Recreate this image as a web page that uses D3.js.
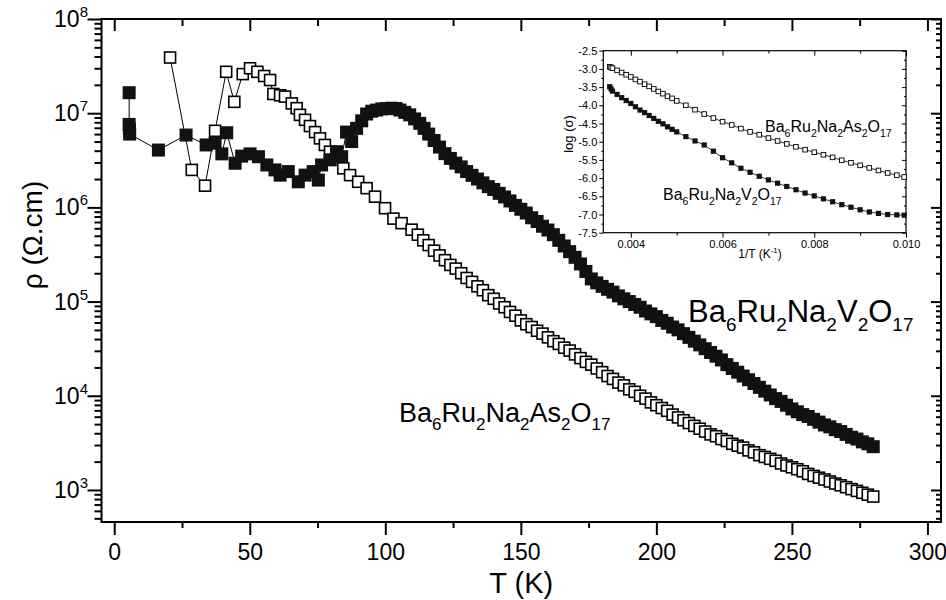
<!DOCTYPE html>
<html>
<head>
<meta charset="utf-8">
<script src="https://cdn.jsdelivr.net/npm/d3@7"></script>
<style>
body { margin: 0; background: #fff; }
text { font-family: "Liberation Sans", Arial, sans-serif; fill: #000; }
.axis path.domain { display: none; }
.axis line { stroke: #000; }
</style>
</head>
<body>
<div id="chart"></div>
<script>
const width = 946
const height = 600

// Ba6Ru2Na2V2O17 (filled squares): T (K) and resistivity (Ohm.cm)
const tempV = [5.5, 5.5, 5.6, 5.7, 16.3, 26.5, 33.9, 37.2, 39.7, 41.5, 44.6, 47.0, 50.1, 53.2, 56.3, 59.3, 61.2, 64.2, 67.9, 70.4,
    73.4, 75.3, 76.5, 79.6, 82.0, 83.9, 85.7, 87.6, 89.4, 91.3, 93.1, 95.0, 96.8, 98.7, 100.5, 102.3, 104.0, 105.4, 107.2, 109.0,
    110.8, 112.7, 114.3, 116, 118, 120, 122, 124, 126, 128, 130, 132, 134, 136, 138, 140, 142, 144, 146, 148,
    150, 152, 154, 156, 158, 160, 162, 164, 166, 168, 170, 172, 174, 176, 178, 180, 182, 184, 186, 188,
    190, 192, 194, 196, 198, 200, 202, 204, 206, 208, 210, 212, 214, 216, 218, 220, 222, 224, 226, 228,
    230, 232, 234, 236, 238, 240, 242, 244, 246, 248, 250, 252, 254, 256, 258, 260, 262, 264, 266, 268,
    270, 272, 274, 276, 278, 280]
const rhoV = [1.65e7, 7.6e6, 6.8e6, 6.0e6, 4.06e6, 5.86e6, 4.6e6, 4.8e6, 3.7e6, 6.2e6, 2.94e6, 3.5e6, 3.7e6, 3.45e6, 2.82e6, 2.5e6, 2.2e6, 2.4e6, 1.87e6, 2.2e6,
    2.4e6, 1.95e6, 2.82e6, 3.2e6, 3.9e6, 3.45e6, 6.3e6, 5.0e6, 6.9e6, 8.3e6, 9.8e6, 1.05e7, 1.08e7, 1.11e7, 1.12e7, 1.13e7, 1.12e7, 1.08e7, 1.02e7, 9.6e6,
    8.7e6, 7.8e6, 6.9e6, 6.0e6, 5.13e6, 4.37e6, 3.72e6, 3.31e6, 2.95e6, 2.69e6, 2.40e6, 2.19e6, 2.00e6, 1.82e6, 1.66e6, 1.55e6, 1.41e6, 1.29e6, 1.17e6, 1.05e6,
    9.55e5, 8.71e5, 7.76e5, 7.08e5, 6.31e5, 5.75e5, 5.13e5, 4.47e5, 3.89e5, 3.39e5, 2.95e5, 2.51e5, 2.09e5, 1.74e5, 1.58e5, 1.45e5, 1.35e5, 1.26e5, 1.15e5, 1.07e5,
    1.00e5, 9.33e4, 8.71e4, 7.94e4, 7.41e4, 6.92e4, 6.31e4, 5.89e4, 5.37e4, 5.01e4, 4.57e4, 4.17e4, 3.80e4, 3.47e4, 3.16e4, 2.88e4, 2.63e4, 2.40e4, 2.14e4, 1.95e4,
    1.78e4, 1.62e4, 1.48e4, 1.35e4, 1.23e4, 1.12e4, 1.02e4, 9.33e3, 8.71e3, 7.94e3, 7.24e3, 6.76e3, 6.31e3, 6.03e3, 5.62e3, 5.25e3, 4.90e3, 4.68e3, 4.37e3, 4.17e3,
    3.89e3, 3.63e3, 3.47e3, 3.24e3, 3.09e3, 2.88e3]

// Ba6Ru2Na2As2O17 (open squares)
const tempAs = [20.6, 28.6, 33.5, 37.2, 41.3, 44.3, 47.4, 50.1, 52.8, 55.3, 57.5, 58.7, 61.2, 63.0, 65.5, 67.3, 68.5, 70.4, 72.2, 74.1,
    75.9, 77.7, 79.6, 82.0, 84.5, 87.0, 90.0, 93.1, 96.2, 99.9, 103.0, 106.0, 109.7, 112, 114, 116, 118, 120, 122, 124,
    126, 128, 130, 132, 134, 136, 138, 140, 142, 144, 146, 148, 150, 152, 154, 156, 158, 160, 162, 164,
    166, 168, 170, 172, 174, 176, 178, 180, 182, 184, 186, 188, 190, 192, 194, 196, 198, 200, 202, 204,
    206, 208, 210, 212, 214, 216, 218, 220, 222, 224, 226, 228, 230, 232, 234, 236, 238, 240, 242, 244,
    246, 248, 250, 252, 254, 256, 258, 260, 262, 264, 266, 268, 270, 272, 274, 276, 278, 280]
const rhoAs = [3.9e7, 2.5e6, 1.7e6, 6.5e6, 2.75e7, 1.32e7, 2.6e7, 3.0e7, 2.75e7, 2.48e7, 2.25e7, 1.6e7, 1.55e7, 1.5e7, 1.27e7, 1.13e7, 9.6e6, 8.5e6, 7.3e6, 6.3e6,
    5.4e6, 4.6e6, 3.9e6, 3.2e6, 2.6e6, 2.2e6, 1.87e6, 1.6e6, 1.3e6, 9.8e5, 7.6e5, 6.8e5, 5.8e5, 5.13e5, 4.47e5, 3.98e5, 3.47e5, 3.09e5, 2.75e5, 2.45e5,
    2.24e5, 2.00e5, 1.78e5, 1.62e5, 1.45e5, 1.32e5, 1.17e5, 1.07e5, 9.55e4, 8.71e4, 7.76e4, 7.08e4, 6.31e4, 5.75e4, 5.37e4, 4.90e4, 4.57e4, 4.17e4, 3.80e4, 3.55e4,
    3.24e4, 3.02e4, 2.75e4, 2.51e4, 2.29e4, 2.14e4, 1.95e4, 1.78e4, 1.62e4, 1.51e4, 1.38e4, 1.29e4, 1.17e4, 1.10e4, 1.00e4, 9.33e3, 8.51e3, 7.94e3, 7.41e3, 6.92e3,
    6.31e3, 5.89e3, 5.50e3, 5.13e3, 4.79e3, 4.47e3, 4.17e3, 3.89e3, 3.72e3, 3.47e3, 3.31e3, 3.09e3, 2.95e3, 2.82e3, 2.63e3, 2.51e3, 2.34e3, 2.24e3, 2.14e3, 2.04e3,
    1.91e3, 1.82e3, 1.74e3, 1.66e3, 1.58e3, 1.48e3, 1.41e3, 1.35e3, 1.29e3, 1.23e3, 1.17e3, 1.12e3, 1.07e3, 1.02e3, 977, 933, 891, 851]

// inset: 1/T (1/K) against log(sigma)
const invT = [0.00354, 0.00357, 0.0036, 0.0037, 0.0038, 0.0039, 0.0040, 0.0041, 0.0042, 0.0043, 0.0044, 0.0045, 0.0046, 0.0047, 0.0048, 0.0049,
    0.0050, 0.0052, 0.0054, 0.0056, 0.0058, 0.0060, 0.0062, 0.0064, 0.0066, 0.0068, 0.0070, 0.0072, 0.0074, 0.0076, 0.0078,
    0.0080, 0.0082, 0.0084, 0.0086, 0.0088, 0.0090, 0.0092, 0.0094, 0.0096, 0.0098, 0.00996]
const logSigmaAs = [-2.94, -2.96, -2.98, -3.04, -3.10, -3.16, -3.22, -3.29, -3.35, -3.42, -3.48, -3.55, -3.62, -3.68, -3.75, -3.81,
    -3.88, -4.00, -4.12, -4.24, -4.35, -4.45, -4.54, -4.64, -4.73, -4.81, -4.90, -4.98, -5.06, -5.14, -5.22,
    -5.29, -5.36, -5.43, -5.51, -5.58, -5.65, -5.72, -5.79, -5.86, -5.92, -5.97]
const logSigmaV = [-3.49, -3.55, -3.61, -3.70, -3.79, -3.87, -3.95, -4.04, -4.13, -4.20, -4.28, -4.36, -4.44, -4.51, -4.59, -4.66,
    -4.73, -4.86, -4.98, -5.09, -5.26, -5.44, -5.58, -5.73, -5.84, -5.95, -6.05, -6.14, -6.23, -6.32, -6.41,
    -6.49, -6.57, -6.65, -6.73, -6.80, -6.87, -6.93, -6.97, -7.00, -7.01, -7.02]

// ticks
const xTicks = [0, 50, 100, 150, 200, 250, 300]
const xMinorTicks = [25, 75, 125, 175, 225, 275]
const yDecades = [1e3, 1e4, 1e5, 1e6, 1e7, 1e8]
const insetYTicks = [-2.5, -3.0, -3.5, -4.0, -4.5, -5.0, -5.5, -6.0, -6.5, -7.0, -7.5]
const insetYMinor = [-2.75, -3.25, -3.75, -4.25, -4.75, -5.25, -5.75, -6.25, -6.75, -7.25]
const insetXTicks = [0.004, 0.006, 0.008, 0.010]
const insetXMinor = [0.005, 0.007, 0.009]

const svg = d3.select("#chart")
    .append("svg")
    .attr("width", width)
    .attr("height", height)

// main plot frame
const plot = { left: 101.5, right: 941, top: 19, bottom: 522 }

const x = d3.scaleLinear().domain([-4.7, 305]).range([plot.left, plot.right])
const y = d3.scaleLog().domain([457, 1e8]).range([plot.bottom, plot.top])
const yMinor = y.ticks().filter(v => !yDecades.includes(v))

// axes
function addAxis(axis, tx, ty) {
    return svg.append("g").attr("class", "axis")
        .attr("transform", `translate(${tx},${ty})`)
        .call(axis)
}
const xb = addAxis(d3.axisBottom(x).tickValues(xTicks).tickSize(13).tickPadding(9), 0, plot.bottom)
xb.selectAll("line").attr("stroke-width", 2)
xb.selectAll("text").attr("font-size", 23).style("font-family", '"Liberation Sans", Arial, sans-serif')
addAxis(d3.axisBottom(x).tickValues(xMinorTicks).tickSize(6).tickFormat(""), 0, plot.bottom).selectAll("line").attr("stroke-width", 2)
addAxis(d3.axisBottom(x).tickValues(xTicks).tickSize(12).tickFormat(""), 0, plot.top).selectAll("line").attr("stroke-width", 2)
addAxis(d3.axisBottom(x).tickValues(xMinorTicks).tickSize(7).tickFormat(""), 0, plot.top).selectAll("line").attr("stroke-width", 2)

addAxis(d3.axisLeft(y).tickValues(yDecades).tickSize(14).tickFormat(""), plot.left, 0).selectAll("line").attr("stroke-width", 2)
addAxis(d3.axisLeft(y).tickValues(yMinor).tickSize(7).tickFormat(""), plot.left, 0).selectAll("line").attr("stroke-width", 2)
addAxis(d3.axisLeft(y).tickValues(yDecades).tickSize(10).tickFormat(""), plot.right, 0).selectAll("line").attr("stroke-width", 2)
addAxis(d3.axisLeft(y).tickValues(yMinor).tickSize(5).tickFormat(""), plot.right, 0).selectAll("line").attr("stroke-width", 2)

// power-of-ten labels
yDecades.forEach(v => {
    const t = svg.append("text")
        .attr("x", 88)
        .attr("y", y(v) + 8)
        .attr("text-anchor", "end")
        .attr("font-size", 23)
    t.append("tspan").text("10")
    t.append("tspan").attr("dy", -10).attr("font-size", 15).text(Math.round(Math.log10(v)))
})

svg.append("rect")
    .attr("x", plot.left).attr("y", plot.top)
    .attr("width", plot.right - plot.left).attr("height", plot.bottom - plot.top)
    .attr("fill", "none").attr("stroke", "#000").attr("stroke-width", 2)

// axis titles
svg.append("text")
    .attr("x", (plot.left + plot.right) / 2)
    .attr("y", 593)
    .attr("text-anchor", "middle")
    .attr("font-size", 29)
    .text("T (K)")
svg.append("text")
    .attr("transform", "translate(42,235) rotate(-90)")
    .attr("text-anchor", "middle")
    .attr("font-size", 28)
    .text("ρ (Ω.cm)")

// series
const dataV = tempV.map((t, i) => ({ t: t, r: rhoV[i] }))
const dataAs = tempAs.map((t, i) => ({ t: t, r: rhoAs[i] }))
const mainLine = d3.line().x(d => x(d.t)).y(d => y(d.r))

const series = svg.append("g").attr("class", "series")
series.append("path").datum(dataV).attr("d", mainLine)
    .attr("fill", "none").attr("stroke", "#000").attr("stroke-width", 1)
series.append("path").datum(dataAs).attr("d", mainLine)
    .attr("fill", "none").attr("stroke", "#000").attr("stroke-width", 1)
series.selectAll(".open").data(dataAs).join("rect")
    .attr("class", "open")
    .attr("x", d => x(d.t) - 5.5).attr("y", d => y(d.r) - 5.5)
    .attr("width", 11).attr("height", 11)
    .attr("fill", "#fff").attr("stroke", "#000").attr("stroke-width", 1.6)
series.selectAll(".filled").data(dataV).join("rect")
    .attr("class", "filled")
    .attr("x", d => x(d.t) - 6.5).attr("y", d => y(d.r) - 6.5)
    .attr("width", 13).attr("height", 13)
    .attr("fill", "#111")

// chemical formulas with subscripts
function formula(g, px, py, parts, fs, subFs, shift) {
    const t = g.append("text").attr("x", px).attr("y", py).attr("font-size", fs)
    let down = false
    parts.forEach(p => {
        const isSub = /^[0-9]+$/.test(p)
        const s = t.append("tspan").text(p)
        if (isSub) { s.attr("font-size", subFs).attr("dy", down ? 0 : shift); down = true }
        else { if (down) s.attr("dy", -shift); down = false }
    })
    return t
}
const asParts = ["Ba", "6", "Ru", "2", "Na", "2", "As", "2", "O", "17"]
const vParts = ["Ba", "6", "Ru", "2", "Na", "2", "V", "2", "O", "17"]
formula(svg, 399, 422, asParts, 27, 17, 8)
formula(svg, 688, 322, vParts, 31, 19, 9)

// inset
const inset = { left: 603.3, right: 906, top: 50.7, bottom: 232.7 }
const ix = d3.scaleLinear().domain([0.0034, 0.010]).range([inset.left, inset.right])
const iy = d3.scaleLinear().domain([-7.5, -2.5]).range([inset.bottom, inset.top])

svg.append("rect")
    .attr("x", inset.left).attr("y", inset.top)
    .attr("width", inset.right - inset.left).attr("height", inset.bottom - inset.top)
    .attr("fill", "#fff")

const ib = addAxis(d3.axisBottom(ix).tickValues(insetXTicks).tickSize(5).tickPadding(3).tickFormat(d => d.toFixed(3)), 0, inset.bottom)
ib.selectAll("text").attr("font-size", 11).style("font-family", '"Liberation Sans", Arial, sans-serif')
addAxis(d3.axisBottom(ix).tickValues(insetXMinor).tickSize(3).tickFormat(""), 0, inset.bottom)
addAxis(d3.axisBottom(ix).tickValues(insetXTicks).tickSize(5).tickFormat(""), 0, inset.top)
addAxis(d3.axisBottom(ix).tickValues(insetXMinor).tickSize(3).tickFormat(""), 0, inset.top)
const il = addAxis(d3.axisLeft(iy).tickValues(insetYTicks).tickSize(4).tickPadding(2).tickFormat(d => d.toFixed(1)), inset.left, 0)
il.selectAll("text").attr("font-size", 11).style("font-family", '"Liberation Sans", Arial, sans-serif')
addAxis(d3.axisLeft(iy).tickValues(insetYMinor).tickSize(2).tickFormat(""), inset.left, 0)
addAxis(d3.axisLeft(iy).tickValues(insetYTicks).tickSize(4).tickFormat(""), inset.right, 0)
addAxis(d3.axisLeft(iy).tickValues(insetYMinor).tickSize(2).tickFormat(""), inset.right, 0)

svg.append("rect")
    .attr("x", inset.left).attr("y", inset.top)
    .attr("width", inset.right - inset.left).attr("height", inset.bottom - inset.top)
    .attr("fill", "none").attr("stroke", "#000").attr("stroke-width", 1.2)

const insetAs = invT.map((v, i) => ({ v: v, s: logSigmaAs[i] }))
const insetV = invT.map((v, i) => ({ v: v, s: logSigmaV[i] }))
const insetLine = d3.line().x(d => ix(d.v)).y(d => iy(d.s))
const ig = svg.append("g").attr("class", "inset")
ig.append("path").datum(insetAs).attr("d", insetLine).attr("fill", "none").attr("stroke", "#000").attr("stroke-width", 0.8)
ig.append("path").datum(insetV).attr("d", insetLine).attr("fill", "none").attr("stroke", "#000").attr("stroke-width", 0.8)
ig.selectAll(".iopen").data(insetAs).join("rect")
    .attr("class", "iopen")
    .attr("x", d => ix(d.v) - 2.3).attr("y", d => iy(d.s) - 2.3)
    .attr("width", 4.6).attr("height", 4.6)
    .attr("fill", "#fff").attr("stroke", "#000").attr("stroke-width", 0.9)
ig.selectAll(".ifilled").data(insetV).join("rect")
    .attr("class", "ifilled")
    .attr("x", d => ix(d.v) - 2.6).attr("y", d => iy(d.s) - 2.6)
    .attr("width", 5.2).attr("height", 5.2)
    .attr("fill", "#111")

formula(svg, 765, 132, asParts, 16, 10.5, 4.5)
formula(svg, 663, 200, vParts, 16, 10.5, 4.5)

const xl = svg.append("text")
    .attr("x", 760).attr("y", 258)
    .attr("text-anchor", "middle")
    .attr("font-size", 12)
xl.append("tspan").text("1/T (K")
xl.append("tspan").attr("dy", -5).attr("font-size", 8).text("-1")
xl.append("tspan").attr("dy", 5).text(")")
svg.append("text")
    .attr("transform", "translate(573,134) rotate(-90)")
    .attr("text-anchor", "middle")
    .attr("font-size", 13)
    .text("log (σ)")
</script>
</body>
</html>
